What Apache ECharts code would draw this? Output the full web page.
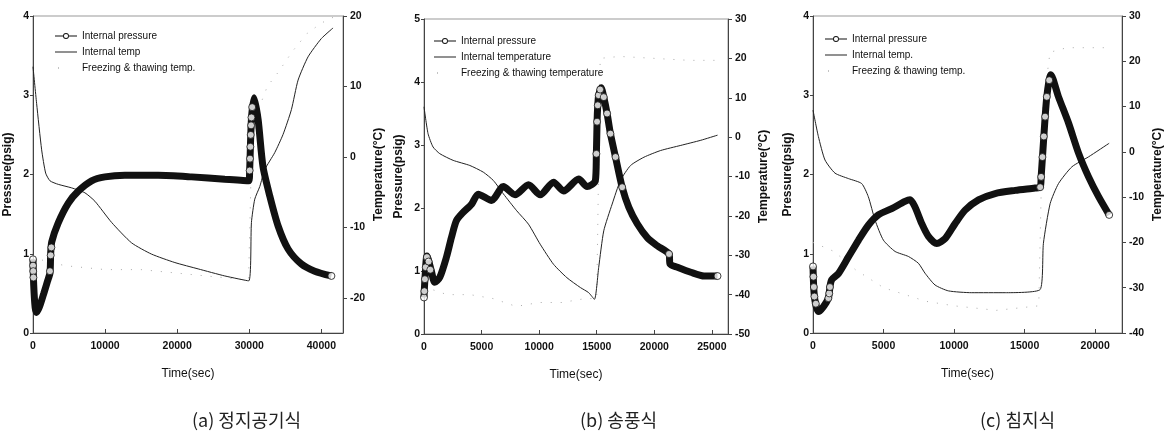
<!DOCTYPE html>
<html>
<head>
<meta charset="utf-8">
<script src="https://cdn.jsdelivr.net/npm/echarts@6/dist/echarts.min.js"></script>
<style>
html, body { margin: 0; padding: 0; background: #fff; }
#chart { width: 1173px; height: 443px; }
</style>
</head>
<body>
<div id="chart"></div>
<script>
// (a) 정지공기식
const xTicksA = [0, 10000, 20000, 30000, 40000];
const pTicksA = [0, 1, 2, 3, 4];
const tTicksA = [-20, -10, 0, 10, 20];
const pressA = [[0, 0.93], [100, 0.6], [300, 0.32], [500, 0.26], [900, 0.33], [1500, 0.5], [2000, 0.65], [2360, 0.76],
    [2450, 1.0], [2600, 1.15], [3500, 1.39], [4900, 1.64], [6280, 1.79], [8130, 1.92], [9980, 1.97], [12750, 1.99],
    [17370, 1.99], [22000, 1.97], [26600, 1.94], [29930, 1.92], [30050, 2.05], [30300, 2.7], [30670, 2.97],
    [31230, 2.69], [31900, 2.1], [32840, 1.73], [34000, 1.35], [35380, 1.06], [37230, 0.87], [39080, 0.78], [41390, 0.72]];
const openA = [[0, 0.93], [0, 0.85], [30, 0.78], [60, 0.7], [2350, 0.78], [2450, 0.98], [2550, 1.08],
    [30050, 2.05], [30100, 2.2], [30150, 2.35], [30200, 2.5], [30250, 2.62], [30300, 2.72], [30400, 2.85], [41390, 0.72]];
const tempA = [[0, 12.8], [500, 7.6], [1200, 1.0], [1755, -2.3], [2360, -3.4], [3510, -3.9], [5360, -4.4], [7200, -5.1],
    [8590, -6.3], [10900, -9.3], [13670, -12.2], [16440, -13.8], [19680, -15.0], [22910, -15.9], [26600, -16.9],
    [29930, -17.6], [30300, -9.3], [30760, -6.0], [31460, -4.2], [32150, -1.8], [33530, 0.6], [34690, 3.2],
    [35840, 6.7], [36770, 10.9], [38150, 14.2], [40000, 16.8], [41620, 18.3]];
const freezeA = [[0, -14], [2000, -15], [5000, -15.5], [10000, -16], [15000, -16], [20000, -16.5], [25000, -17],
    [29900, -17.5], [30300, 0], [31000, 6], [32500, 10], [34000, 12], [36000, 15], [38000, 17.5], [40000, 19], [42000, 20]];

// (b) 송풍식
const xTicksB = [0, 5000, 10000, 15000, 20000, 25000];
const pTicksB = [0, 1, 2, 3, 4, 5];
const tTicksB = [-50, -40, -30, -20, -10, 0, 10, 20, 30];
const pressB = [[0, 0.58], [80, 0.87], [260, 1.24], [640, 1.0], [930, 0.82], [1370, 0.9], [1950, 1.22], [2380, 1.53],
    [2820, 1.8], [3400, 1.93], [4130, 2.06], [4710, 2.22], [5870, 2.12], [6890, 2.34], [7910, 2.21], [9070, 2.37],
    [10090, 2.21], [11250, 2.41], [12120, 2.27], [13430, 2.46], [14160, 2.34], [14880, 2.43], [14970, 2.86],
    [15030, 3.37], [15090, 3.63], [15170, 3.79], [15380, 3.91], [15610, 3.76], [15900, 3.5], [16190, 3.18],
    [16630, 2.81], [17210, 2.33], [17790, 2.01], [18520, 1.75], [19390, 1.53], [20260, 1.4], [21280, 1.27],
    [21370, 1.11], [22010, 1.06], [23170, 0.98], [24330, 0.92], [25490, 0.92]];
const openB = [[0, 0.58], [30, 0.68], [80, 0.87], [150, 1.06], [250, 1.22], [400, 1.15], [550, 1.02],
    [14970, 2.86], [15030, 3.37], [15090, 3.63], [15170, 3.79], [15300, 3.88], [15610, 3.76], [15900, 3.5],
    [16190, 3.18], [16630, 2.81], [17210, 2.33], [21280, 1.27], [25490, 0.92]];
const tempB = [[0, 7.7], [350, 0.9], [785, -2.5], [1370, -4.2], [2530, -5.9], [3980, -7.2], [5150, -8.9], [6020, -11.0],
    [6890, -14.4], [8050, -18.7], [9070, -22.1], [10090, -27.2], [11250, -32.3], [12410, -35.7], [13580, -38.2],
    [14300, -39.5], [14800, -41.2], [15170, -33.1], [15610, -23.8], [16340, -17.0], [17060, -11.0], [17940, -7.2],
    [19100, -5.1], [20550, -3.4], [22300, -2.1], [24040, -0.8], [25490, 0.5]];
const freezeB = [[0, -38], [2000, -40], [4000, -40], [6000, -41], [8000, -43], [10000, -42], [12000, -42], [14000, -41],
    [15000, -41], [15300, 20], [17000, 20.5], [20000, 20], [23000, 19.5], [26000, 19.5]];

// (c) 침지식
const xTicksC = [0, 5000, 10000, 15000, 20000];
const pTicksC = [0, 1, 2, 3, 4];
const tTicksC = [-40, -30, -20, -10, 0, 10, 20, 30];
const pressC = [[0, 0.84], [100, 0.46], [380, 0.27], [730, 0.33], [1090, 0.44], [1200, 0.58], [1320, 0.67], [1800, 0.75],
    [2510, 0.96], [3220, 1.17], [3920, 1.36], [4630, 1.49], [5580, 1.57], [6520, 1.66], [6880, 1.68], [7230, 1.59],
    [7710, 1.38], [8180, 1.22], [8770, 1.13], [9360, 1.19], [10070, 1.38], [10780, 1.55], [11730, 1.68],
    [12910, 1.76], [14330, 1.8], [15740, 1.83], [16100, 1.84], [16170, 1.97], [16360, 2.48], [16570, 2.98],
    [16860, 3.26], [17400, 2.98], [18110, 2.65], [18820, 2.27], [19530, 1.97], [20240, 1.72], [20990, 1.49]];
const openC = [[0, 0.84], [30, 0.71], [60, 0.58], [100, 0.46], [200, 0.37], [1090, 0.44], [1150, 0.5], [1200, 0.58],
    [16100, 1.84], [16170, 1.97], [16260, 2.22], [16360, 2.48], [16450, 2.73], [16570, 2.98], [16740, 3.19], [20990, 1.49]];
const tempC = [[0, 9.2], [380, 3.4], [850, -1.8], [1560, -4.7], [2510, -5.9], [3450, -7.0], [3920, -9.9], [4400, -15.1],
    [4990, -19.5], [5820, -22.0], [6760, -23.1], [7470, -24.6], [7940, -26.8], [8650, -29.4], [9600, -30.7],
    [11250, -31.1], [13620, -31.1], [16100, -30.4], [16330, -20.2], [16810, -11.4], [17400, -7.0], [18350, -3.3],
    [19530, -1.1], [20990, 1.9]];
const freezeC = [[0, -20], [1500, -22], [3000, -26], [5000, -30], [8000, -33], [10000, -34], [13000, -35], [16000, -34],
    [16300, 10], [16800, 22], [18000, 23], [20000, 23], [21000, 23]];

const FONT = '"Liberation Sans", Arial, sans-serif';

// 图例图标
const ICON_PRESS = 'path://M0,4.5H8V5.5H0Z M14,4.5H22V5.5H14Z M11,2A3,3 0 1,1 10.99,2Z M11,2.9A2.1,2.1 0 1,0 11.01,2.9Z';
const ICON_LINE = 'path://M0,4.5H22V5.5H0Z';
const ICON_DOT = 'path://M0,0H0.05V0.05H0Z M21.95,9.95H22V10H21.95Z M3,4.5H4V5.5H3Z';

const panels = [
    {
        grid: {left: 33, top: 16, width: 310, height: 317},
        xMax: 43000, pMax: 4, tMin: -25, tMax: 20,
        xTicks: xTicksA, pTicks: pTicksA, tTicks: tTicksA,
        press: pressA, open: openA, temp: tempA, freeze: freezeA,
        tempName: 'Internal temp', freezeName: 'Freezing & thawing temp.',
        legendLeft: 50, legendTop: 26, caption: '(a) 정지공기식', captionX: 192
    },
    {
        grid: {left: 424, top: 19, width: 304, height: 315},
        xMax: 26400, pMax: 5, tMin: -50, tMax: 30,
        xTicks: xTicksB, pTicks: pTicksB, tTicks: tTicksB,
        press: pressB, open: openB, temp: tempB, freeze: freezeB,
        tempName: 'Internal temperature', freezeName: 'Freezing & thawing temperature',
        legendLeft: 429, legendTop: 31, caption: '(b) 송풍식', captionX: 580
    },
    {
        grid: {left: 813, top: 16, width: 309, height: 317},
        xMax: 21900, pMax: 4, tMin: -40, tMax: 30,
        xTicks: xTicksC, pTicks: pTicksC, tTicks: tTicksC,
        press: pressC, open: openC, temp: tempC, freeze: freezeC,
        tempName: 'Internal temp.', freezeName: 'Freezing & thawing temp.',
        legendLeft: 820, legendTop: 29, caption: '(c) 침지식', captionX: 980
    }
];

const tickLabel = {fontFamily: FONT, fontSize: 10.5, fontWeight: 'bold', color: '#111', formatter: v => String(v)};
const axisLine = {show: true, lineStyle: {color: '#444', width: 1}};
const titleStyle = {fontFamily: FONT, fontSize: 12, fontWeight: 'bold', color: '#111'};

const grids = [], xAxes = [], yAxes = [], series = [], legends = [], graphics = [];

panels.forEach((p, i) => {
    grids.push(Object.assign({show: true, borderColor: '#999', borderWidth: 1}, p.grid));

    xAxes.push({
        type: 'value', gridIndex: i, min: 0, max: p.xMax,
        name: 'Time(sec)', nameLocation: 'middle', nameGap: 35,
        nameTextStyle: {fontFamily: FONT, fontSize: 12, color: '#111'},
        axisLine: axisLine,
        axisTick: {inside: true, length: 4, customValues: p.xTicks, lineStyle: {color: '#444'}},
        axisLabel: Object.assign({customValues: p.xTicks, margin: 8}, tickLabel),
        splitLine: {show: false}
    });
    // 左轴: 压力
    yAxes.push({
        type: 'value', gridIndex: i, position: 'left', min: 0, max: p.pMax,
        name: 'Pressure(psig)', nameLocation: 'middle', nameGap: 19, nameRotate: 90,
        nameTextStyle: titleStyle,
        axisLine: axisLine,
        axisTick: {length: 3, customValues: p.pTicks, lineStyle: {color: '#444'}},
        axisLabel: Object.assign({customValues: p.pTicks, margin: 4}, tickLabel),
        splitLine: {show: false}
    });
    // 右轴: 温度
    yAxes.push({
        type: 'value', gridIndex: i, position: 'right', min: p.tMin, max: p.tMax,
        name: 'Temperature(°C)', nameLocation: 'middle', nameGap: 30, nameRotate: 90,
        nameTextStyle: titleStyle,
        axisLine: axisLine,
        axisTick: {length: 4, customValues: p.tTicks, lineStyle: {color: '#444'}},
        axisLabel: Object.assign({customValues: p.tTicks, margin: 7}, tickLabel),
        splitLine: {show: false}
    });

    series.push({
        name: p.freezeName,
        type: 'line', xAxisIndex: i, yAxisIndex: 2 * i + 1,
        data: p.freeze, symbol: 'none', silent: true, z: 1,
        lineStyle: {color: '#aaa', width: 1, type: [1, 9]},
        itemStyle: {color: '#888'}
    });
    series.push({
        name: p.tempName,
        type: 'line', xAxisIndex: i, yAxisIndex: 2 * i + 1,
        data: p.temp, symbol: 'none', smooth: 0.2, z: 2,
        lineStyle: {color: '#222', width: 1},
        itemStyle: {color: '#222'}
    });
    series.push({
        name: 'Internal pressure',
        type: 'line', xAxisIndex: i, yAxisIndex: 2 * i,
        data: p.press, symbol: 'emptyCircle', symbolSize: 7, showSymbol: false, smooth: 0.25, z: 3,
        lineStyle: {color: '#111', width: 7},
        itemStyle: {color: '#111', borderColor: '#111'}
    });
    series.push({
        name: 'pressure-open-' + i,
        type: 'scatter', xAxisIndex: i, yAxisIndex: 2 * i,
        data: p.open, symbol: 'circle', symbolSize: 7, z: 4,
        itemStyle: {color: '#fff', borderColor: '#111', borderWidth: 1}
    });

    legends.push({
        orient: 'vertical', left: p.legendLeft, top: p.legendTop,
        itemWidth: 22, itemHeight: 10, itemGap: 6,
        selectedMode: false,
        data: [
            {name: 'Internal pressure', icon: ICON_PRESS},
            {name: p.tempName, icon: ICON_LINE},
            {name: p.freezeName, icon: ICON_DOT}
        ],
        textStyle: {fontFamily: FONT, fontSize: 10, color: '#111'}
    });

    graphics.push({
        type: 'text', left: p.captionX, top: 411,
        style: {
            text: p.caption, x: 0, align: 'center',
            font: '18px "Noto Sans CJK KR", sans-serif', fill: '#222'
        }
    });
});

const chart = echarts.init(document.getElementById('chart'));
chart.setOption({
    animation: false,
    backgroundColor: '#fff',
    grid: grids,
    xAxis: xAxes,
    yAxis: yAxes,
    legend: legends,
    series: series,
    graphic: graphics
});
</script>
</body>
</html>
